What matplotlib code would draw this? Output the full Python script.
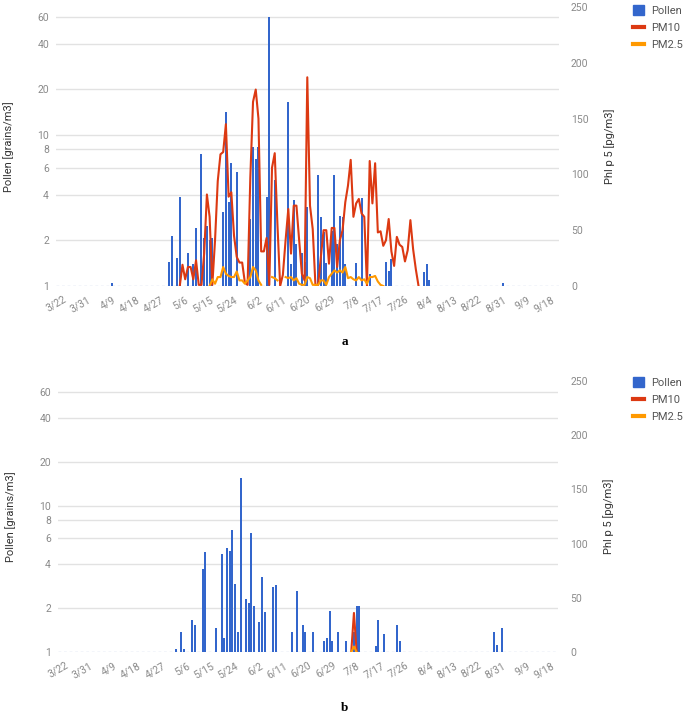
import numpy as np
import matplotlib
matplotlib.use("Agg")
import matplotlib.pyplot as plt
from matplotlib.patches import Patch
from matplotlib.lines import Line2D

plt.rcParams['font.family'] = ['Roboto', 'DejaVu Sans']

# x axis: day number counted from 3/22
tick_days = [0, 9, 18, 27, 36, 45, 54, 63, 72, 81, 90, 99, 108, 117, 126, 135, 144, 153, 162, 171, 180]
tick_labels = ["3/22", "3/31", "4/9", "4/18", "4/27", "5/6", "5/15", "5/24", "6/2", "6/11",
               "6/20", "6/29", "7/8", "7/17", "7/26", "8/4", "8/13", "8/22", "8/31", "9/9", "9/18"]

# ---- chart a ----
pollen_a_days = [18, 39, 40, 42, 43, 46, 48, 49, 51, 52, 53, 54, 55, 59, 60, 61, 62, 64,
                 69, 70, 71, 72, 75, 76, 78, 83, 84, 85, 86, 88, 89, 90, 94, 95, 96, 97,
                 99, 100, 101, 102, 103, 104, 108, 110, 113, 119, 120, 121, 133, 134, 135, 162]
pollen_a_vals = [1.05, 1.45, 2.15, 1.53, 3.9, 1.64, 1.4, 2.4, 7.4, 2.07, 2.5, 2.0, 2.07, 3.07, 14.2, 3.6, 6.5, 5.7,
                 2.77, 8.3, 6.9, 8.3, 3.9, 60, 5.0, 16.5, 1.4, 3.7, 1.9, 1.64, 1.45, 3.34, 5.4, 2.87, 2.29, 1.42,
                 2.3, 5.4, 1.9, 2.9, 2.85, 1.4, 1.42, 3.8, 1.2, 1.45, 1.25, 1.5, 1.24, 1.39, 1.1, 1.04]

pm10_a_start = 43
pm10_a = [0, 19, 6, 17, 17, 6, 23, 1, 1, 29, 82, 62, 1, 41, 94, 118, 120, 145, 80, 84,
          45, 26, 21, 21, 3, 1, 97, 165, 176, 150, 31, 31, 43, 1, 106, 119, 55, 0, 10, 41,
          69, 29, 72, 72, 41, 11, 5, 187, 72, 51, 1, 1, 26, 50, 50, 20, 52, 52, 17, 41,
          50, 75, 90, 113, 62, 74, 78, 65, 62, 0, 112, 74, 110, 48, 49, 36, 41, 60, 31, 18,
          44, 37, 35, 22, 32, 59, 33, 15, 0]

pm25_a_start = 54
pm25_a = [0, 6, 2, 8, 8, 17, 11, 9, 8, 8, 13, 5, 5, 2, 5, 8, 17, 14, 5, 1,
          np.nan, np.nan, np.nan, 8, 7, 5, np.nan, np.nan, 8, 7, 8, 5, 7, 2, 1, 1, 8, 7, 1, 1,
          1, 5, 5, 1, 8, 11, 14, 12, 14, 12, 17, 7, 8, 6, 5, 8, 5, 6, 2, 8,
          8, 9, 4, 1, 0]

# ---- chart b ----
pollen_b_days = [41, 43, 44, 47, 48, 51, 52, 56, 58, 59, 60, 61, 62, 63, 64, 65, 67, 68, 69, 70,
                 72, 73, 74, 77, 78, 84, 86, 88, 89, 92, 96, 97, 98, 99, 101, 104, 107, 108, 109,
                 115, 116, 118, 123, 124, 159, 160, 162]
pollen_b_vals = [1.05, 1.38, 1.05, 1.66, 1.53, 3.7, 4.86, 1.47, 4.68, 1.24, 5.12, 4.91, 6.83, 2.9, 1.38, 15.4,
                 2.29, 2.17, 6.5, 2.07, 1.6, 3.27, 1.89, 2.8, 2.87, 1.38, 2.63, 1.53, 1.38, 1.38, 1.18,
                 1.24, 1.92, 1.18, 1.38, 1.18, 1.38, 2.07, 2.07, 1.1, 1.66, 1.32, 1.53, 1.18, 1.38, 1.12, 1.47]

pm10_b_start = 106
pm10_b = [0, 36, 0]
pm25_b_start = 106
pm25_b = [0, 5, 0]

BLUE = "#3366cc"
RED = "#dc3912"
ORANGE = "#ff9900"
GRID = "#e2e2e2"
TICK = "#8a8a8a"

fig = plt.figure(figsize=(6.85, 7.13), dpi=100)


def draw(rect, p_days, p_vals, pm10_start, pm10, pm25_start, pm25, ytop, caption, cap_y, leg_y):
    ax = fig.add_axes(rect)
    ax.set_yscale("log")
    ax.set_ylim(1, ytop)
    ax.set_xlim(-2.6, 182.6)
    for g in [2, 4, 6, 8, 10, 20, 40, 60]:
        ax.axhline(g, color=GRID, lw=1, zorder=0)
    ax.axhline(1, color="#c4cfe6", lw=1, ls=(0, (2, 2)), zorder=0)
    p_vals = np.array(p_vals)
    ax.bar(p_days, p_vals - 1, bottom=1, width=0.72, color=BLUE, zorder=2)
    ax.set_yticks([1, 2, 4, 6, 8, 10, 20, 40, 60])
    ax.set_yticklabels(["1", "2", "4", "6", "8", "10", "20", "40", "60"])
    ax.minorticks_off()
    ax.set_xticks(tick_days)
    ax.set_xticklabels(tick_labels, rotation=30, ha="right", rotation_mode="anchor")
    ax.tick_params(axis="both", length=0, labelsize=7.5, labelcolor=TICK, pad=5)
    ax.tick_params(axis="x", pad=6)
    for s in ax.spines.values():
        s.set_visible(False)
    ax.set_ylabel("Pollen [grains/m3]", fontsize=8, color="#333333", labelpad=17)

    ax2 = ax.twinx()
    ax2.set_ylim(0, 250)
    ax2.set_xlim(-2.6, 182.6)
    d10 = pm10_start + np.arange(len(pm10))
    d25 = pm25_start + np.arange(len(pm25))
    ax2.plot(d10, pm10, color=RED, lw=1.5, zorder=3)
    ax2.plot(d25, pm25, color=ORANGE, lw=1.5, zorder=4)
    ax2.set_yticks([0, 50, 100, 150, 200, 250])
    ax2.tick_params(axis="y", length=0, labelsize=7.5, labelcolor=TICK, pad=9)
    for s in ax2.spines.values():
        s.set_visible(False)
    ax2.set_ylabel("Phl p 5 [pg/m3]", fontsize=8, color="#333333", labelpad=11)

    handles = [Patch(facecolor=BLUE, edgecolor=BLUE),
               Line2D([0], [0], color=RED, lw=3),
               Line2D([0], [0], color=ORANGE, lw=3)]
    fig.legend(handles, ["Pollen", "PM10", "PM2.5"], loc="upper left",
               bbox_to_anchor=(0.918, leg_y), frameon=False, fontsize=8,
               handlelength=1.0, handleheight=1.0, handletextpad=0.6,
               labelspacing=0.55, labelcolor="#555555", borderaxespad=0)
    fig.text(0.503, cap_y, caption, ha="center", va="center",
             family="Liberation Serif", fontweight="bold", fontsize=9.5)


draw([0.0818, 0.5989, 0.7336, 0.3913], pollen_a_days, pollen_a_vals,
     pm10_a_start, pm10_a, pm25_a_start, pm25_a, 69.8, "a", 1 - 342 / 713, 1 - 1 / 713)
draw([0.0847, 0.0856, 0.7300, 0.3801], pollen_b_days, pollen_b_vals,
     pm10_b_start, pm10_b, pm25_b_start, pm25_b, 71.4, "b", 1 - 708 / 713, 1 - 373 / 713)

fig.savefig("out.png", dpi=100)
